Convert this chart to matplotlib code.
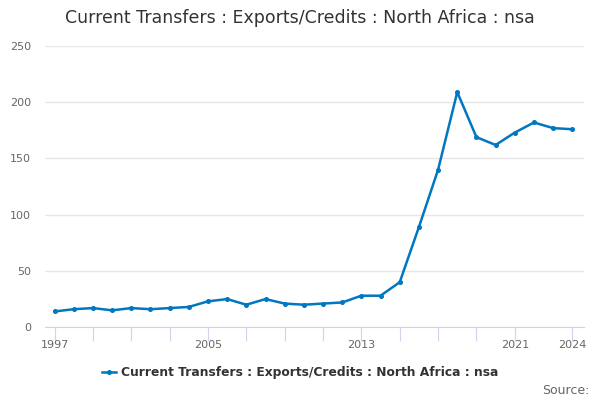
import numpy as np
import matplotlib.pyplot as plt
from matplotlib.lines import Line2D

# data
years = list(range(1997, 2025))
values = [14, 16, 17, 15, 17, 16, 17, 18, 23, 25, 20, 25, 21, 20,
          21, 22, 28, 28, 40, 89, 140, 209, 169, 162, 173, 182, 177, 176]
label_years = [1997, 2005, 2013, 2021, 2024]
tick_years = list(range(1997, 2022, 2)) + [2024]
yticks = [0, 50, 100, 150, 200, 250]
title = "Current Transfers : Exports/Credits : North Africa : nsa"

color = "#0077c0"

fig = plt.figure(figsize=(6, 4), dpi=100)
ax = fig.add_axes([0.075, 0.182, 0.898, 0.703])

ax.plot(years, values, color=color, lw=1.8, marker="o", ms=2.6, zorder=3)

ax.set_xlim(1996.5, 2024.6)
ax.set_ylim(0, 250)
ax.set_yticks(yticks)
ax.grid(axis="y", color="#e6e6e6", lw=1)
ax.set_axisbelow(True)

# tick marks every other year, labels only on a few
ax.set_xticks(tick_years)
ax.set_xticklabels([str(y) if y in label_years else "" for y in tick_years])
ax.tick_params(axis="x", length=10, color="#ccd6eb",
               labelsize=8, labelcolor="#666666", pad=-1)
ax.tick_params(axis="y", length=0, labelsize=8, labelcolor="#666666", pad=10)

for s in ["top", "right", "left"]:
    ax.spines[s].set_visible(False)
ax.spines["bottom"].set_color("#ccd6eb")

fig.text(0.5, 0.955, title, ha="center", va="center", fontsize=12.5, color="#333333")

handle = Line2D([], [], color=color, lw=1.8, marker="o", ms=2.6)
fig.legend([handle], [title], loc="center", bbox_to_anchor=(0.5, 0.068),
           frameon=False, handlelength=1.2, handletextpad=0.4,
           prop={"weight": "bold", "size": 8.8}, labelcolor="#333333")

fig.text(0.982, 0.025, "Source:", ha="right", va="center", fontsize=9, color="#666666")

fig.savefig("out.png", dpi=100)
